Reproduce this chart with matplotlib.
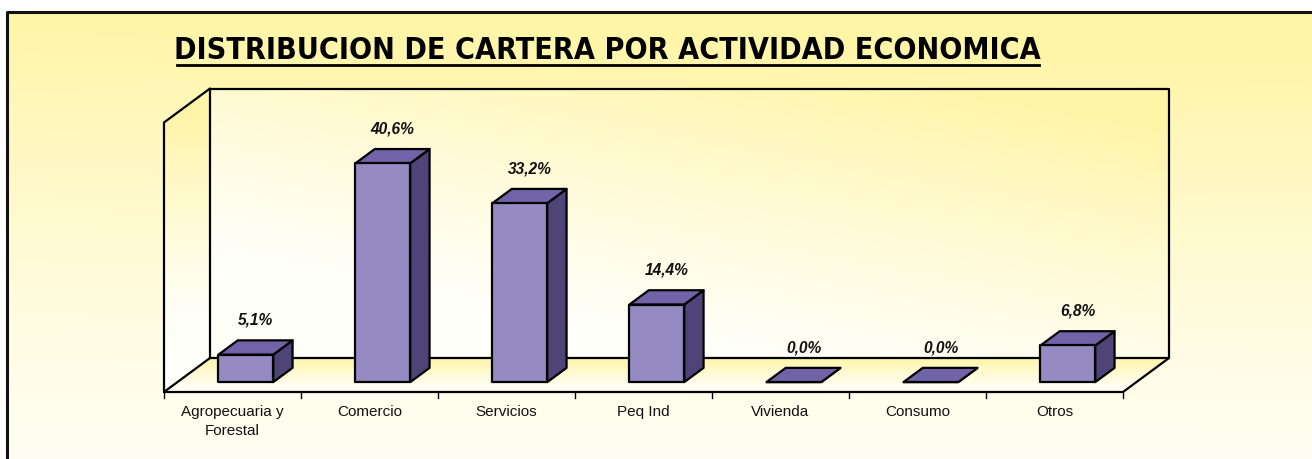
import numpy as np
import matplotlib.pyplot as plt
from matplotlib.patches import Polygon
from matplotlib.path import Path

categorias = ['Agropecuaria y\nForestal', 'Comercio', 'Servicios', 'Peq Ind',
              'Vivienda', 'Consumo', 'Otros']
porcentajes = [5.1, 40.6, 33.2, 14.4, 0.0, 0.0, 6.8]
etiquetas = ['5,1%', '40,6%', '33,2%', '14,4%', '0,0%', '0,0%', '6,8%']
titulo = 'DISTRIBUCION DE CARTERA POR ACTIVIDAD ECONOMICA'
YMAX = 50

# layout of the fake-3d box (pixels)
W, H = 1312, 460
PX_CAT = 137.0      # pixels per category
PX_PCT = 5.39       # pixels per percent
X0_PX, Y0_PX = 164, 393   # front-left corner of the floor
DEP_X_PX, DEP_Y_PX = 46, 34

DX = DEP_X_PX / PX_CAT
DY = DEP_Y_PX / PX_PCT
BAR_W = 0.2
D_FRONT, D_BACK = 0.29, 0.71

FRONT = '#968ac3'
TOP = '#7063a8'
SIDE = '#4e4478'
YEL = np.array([255, 245, 166]) / 255
WHITE = np.array([255, 255, 250]) / 255

fig = plt.figure(figsize=(W / 100, H / 100), dpi=100)
ax = fig.add_axes([0, 0, 1, 1])
xl = -0.5 - X0_PX / PX_CAT
yt = Y0_PX / PX_PCT
xr, yb = xl + W / PX_CAT, yt - H / PX_PCT
ax.set_xlim(xl, xr)
ax.set_ylim(yb, yt)
ax.axis('off')


def px(x, y):
    return xl + x / PX_CAT, yt - y / PX_PCT


def P(x, y, d):
    return (x + d * DX, y + d * DY)


def ramp(s, p=1.0):
    return np.clip(s, 0, 1) ** p


# background raster: one pixel per output pixel, painted region by region
gx = xl + (np.arange(W) + 0.5) / PX_CAT
gy = yt - (np.arange(H) + 0.5) / PX_PCT
GX, GY = np.meshgrid(gx, gy)
pts = np.column_stack([GX.ravel(), GY.ravel()])
img = np.ones((H, W, 3))


def paint(poly, tfun):
    xs = [p[0] for p in poly]
    ys = [p[1] for p in poly]
    mask = Path(poly).contains_points(pts).reshape(H, W)
    u = (GX - min(xs)) / (max(xs) - min(xs))
    v = (GY - min(ys)) / (max(ys) - min(ys))
    t = tfun(u, v)[..., None]
    col = WHITE * (1 - t) + YEL * t
    img[mask] = col[mask]


fx0, fy0 = px(7, 13)
frame = [(fx0, yb), (xr, yb), (xr, fy0), (fx0, fy0)]
paint(frame, lambda u, v: ramp(0.1 + 0.9 * v ** 1.3 + 0.1 * u * v))

xa, xb = -0.5, len(categorias) - 0.5
back = [P(xa, 0, 1), P(xb, 0, 1), P(xb, YMAX, 1), P(xa, YMAX, 1)]
left = [P(xa, 0, 0), P(xa, 0, 1), P(xa, YMAX, 1), P(xa, YMAX, 0)]
floor = [P(xa, 0, 0), P(xb, 0, 0), P(xb, 0, 1), P(xa, 0, 1)]
paint(back, lambda u, v: ramp(0.55 * u + 0.85 * v - 0.3, 1.2))
paint(left, lambda u, v: ramp(1.4 * v - 0.3, 1.2))
paint(floor, lambda u, v: ramp(v, 1.3))

ax.imshow(img, extent=(xl, xr, yb, yt), origin='upper', aspect='auto',
          interpolation='nearest', zorder=0)
ax.plot([fx0, fx0, xr], [yb, fy0, fy0], color='#111111', lw=2.2,
        solid_capstyle='butt', zorder=1)

lk = dict(color='black', lw=1.6, zorder=2, solid_capstyle='round')
for pts_ in [[P(xa, 0, 1), P(xb, 0, 1), P(xb, YMAX, 1), P(xa, YMAX, 1), P(xa, 0, 1)],
             [P(xa, 0, 0), P(xa, 0, 1)],
             [P(xa, 0, 0), P(xa, YMAX, 0), P(xa, YMAX, 1)],
             [P(xa, 0, 0), P(xb, 0, 0), P(xb, 0, 1)]]:
    ax.plot([p[0] for p in pts_], [p[1] for p in pts_], **lk)

# category ticks
tick_len = 6 / PX_PCT
for k in range(len(categorias) + 1):
    ax.plot([xa + k, xa + k], [0, -tick_len], color='black', lw=1, zorder=2)

# bars
for i, v in enumerate(porcentajes):
    x0, x1 = i - BAR_W, i + BAR_W
    faces = [
        ([P(x1, 0, D_FRONT), P(x1, v, D_FRONT), P(x1, v, D_BACK), P(x1, 0, D_BACK)], SIDE),
        ([P(x0, v, D_FRONT), P(x1, v, D_FRONT), P(x1, v, D_BACK), P(x0, v, D_BACK)], TOP),
        ([P(x0, 0, D_FRONT), P(x1, 0, D_FRONT), P(x1, v, D_FRONT), P(x0, v, D_FRONT)], FRONT),
    ]
    for poly, c in faces:
        ax.add_patch(Polygon(poly, closed=True, fc=c, ec='black', lw=1.6,
                             joinstyle='round', zorder=3))
    lx, ly = P(i, v + 5.2, 0.5)
    ax.text(lx, ly, etiquetas[i], ha='center', va='center', fontsize=11.2,
            fontweight='bold', fontstyle='italic', family='Liberation Sans',
            color='#111111', zorder=4)

    ax.text(i, -12 / PX_PCT, categorias[i], ha='center', va='top', fontsize=11,
            family='Liberation Sans', linespacing=1.45, color='#111111', zorder=4)

# title with underline
tx, ty = px(607, 50)
t = ax.text(tx, ty, titulo, ha='center', va='center', fontsize=21.8,
            fontweight='bold', family='DejaVu Sans', fontstretch='condensed',
            color='black', zorder=4)
fig.canvas.draw()
bb = t.get_window_extent()
ux0, uy = px(bb.x0 + 3, 66)
ux1, _ = px(bb.x1 - 1, 66)
ax.plot([ux0, ux1], [uy, uy], color='black', lw=2, zorder=4)

fig.savefig('out.png', dpi=100)
